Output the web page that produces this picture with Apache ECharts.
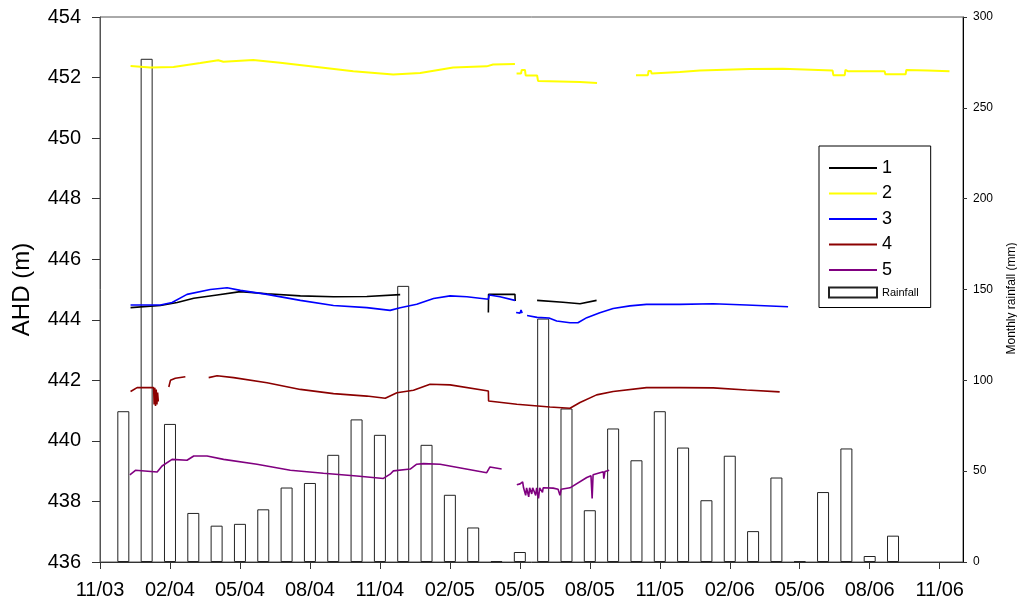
<!DOCTYPE html>
<html>
<head>
<meta charset="utf-8">
<script src="https://cdn.jsdelivr.net/npm/echarts@6/dist/echarts.min.js"></script>
<style>
html,body{margin:0;padding:0;background:#fff;}
#chart{width:1017px;height:603px;}
</style>
</head>
<body>
<div id="chart"></div>
<script>
// x values are months counted from Nov 2003 (0 = 11/03)
var xTickValues = [0, 3, 6, 9, 12, 15, 18, 21, 24, 27, 30, 33, 36];
var xTickLabels = ['11/03','02/04','05/04','08/04','11/04','02/05','05/05','08/05','11/05','02/06','05/06','08/06','11/06'];

var rainMonths = [1,2,3,4,5,6,7,8,9,10,11,12,13,14,15,16,17,18,19,20,21,22,23,24,25,26,27,28,29,30,31,32,33,34];
var rainValues = [83,277,76,27,20,21,29,41,43.5,59,78.5,70,152,64.5,37,19,0.5,5.5,134,84.5,28.5,73.5,56,83,63,34,58.5,17,46.5,0.4,38.5,62.5,3.3,14.5];

var line1 = [[1.31,444.40],[2.59,444.47],[3.31,444.57],[4.02,444.71],[5.02,444.82],[6.02,444.93],[7.16,444.86],[8.59,444.79],[10.01,444.76],[11.44,444.77],[12.87,444.83],[13.2,null],
  [16.65,444.24],[16.66,444.84],[17.79,444.84],[17.80,444.62],[18.2,null],
  [18.74,444.64],[19.85,444.58],[20.58,444.53],[21.29,444.64]];

var line2 = [[1.31,452.38],[2.16,452.33],[3.15,452.35],[4.30,452.48],[5.07,452.57],[5.29,452.52],[6.57,452.58],[7.73,452.49],[9.30,452.35],[10.86,452.21],[12.57,452.10],[13.73,452.15],[15.14,452.33],[16.58,452.37],[16.85,452.43],[17.79,452.45],[17.82,null],
  [17.86,452.13],[18.05,452.13],[18.08,452.25],[18.22,452.25],[18.25,452.07],[18.74,452.07],[18.78,451.89],[19.72,451.87],[20.58,451.85],[21.31,451.82],[22.0,null],
  [22.98,452.08],[23.49,452.08],[23.52,452.22],[23.62,452.22],[23.65,452.13],[24.86,452.18],[25.72,452.23],[27.86,452.28],[29.27,452.29],[31.41,452.23],[31.44,452.08],[31.93,452.08],[31.96,452.25],[32.06,452.21],[33.64,452.21],[33.67,452.11],[34.54,452.11],[34.57,452.25],[35.48,452.23],[36.42,452.21]];

var line3 = [[1.31,444.49],[2.59,444.49],[3.09,444.57],[3.73,444.84],[4.73,445.00],[5.45,445.06],[6.02,444.97],[7.16,444.84],[8.59,444.64],[10.01,444.47],[11.44,444.40],[12.44,444.31],[12.87,444.40],[13.58,444.51],[14.30,444.70],[15.01,444.79],[15.73,444.76],[16.65,444.68],[16.69,444.82],[17.15,444.76],[17.79,444.64],[17.82,null],
  [17.84,444.24],[18.01,444.22],[18.05,444.32],[18.10,444.22],[18.2,null],
  [18.31,444.14],[18.74,444.08],[19.25,444.06],[19.58,443.96],[20.15,443.90],[20.49,443.90],[20.87,444.07],[21.43,444.23],[22.0,444.37],[22.72,444.46],[23.43,444.51],[24.86,444.51],[26.29,444.53],[27.72,444.49],[29.50,444.43]];

var line4 = [[1.31,441.63],[1.59,441.76],[2.30,441.76],[2.32,441.2],[2.35,441.75],[2.38,441.15],[2.41,441.7],[2.44,441.2],[2.47,441.6],[2.50,441.3],[2.7,null],
  [2.95,441.78],[3.02,442.0],[3.23,442.07],[3.66,442.12],[4.2,null],
  [4.66,442.09],[5.02,442.15],[5.73,442.09],[7.16,441.92],[8.59,441.70],[10.01,441.56],[11.44,441.48],[12.23,441.41],[12.73,441.59],[13.44,441.67],[14.15,441.87],[15.01,441.85],[16.65,441.65],[16.66,441.32],[17.87,441.21],[19.29,441.12],[20.15,441.08],[20.58,441.27],[21.29,441.52],[22.0,441.63],[23.43,441.76],[24.86,441.76],[26.29,441.75],[27.72,441.68],[29.14,441.62]];

var line5 = [[1.28,438.88],[1.52,439.03],[2.45,438.97],[2.66,439.17],[3.09,439.39],[3.73,439.36],[4.02,439.50],[4.59,439.50],[5.30,439.39],[6.73,439.23],[8.16,439.03],[9.58,438.93],[11.01,438.84],[12.15,438.76],[12.44,438.90],[12.58,439.01],[13.30,439.07],[13.58,439.23],[13.87,439.25],[14.58,439.23],[16.58,438.95],[16.72,439.14],[17.22,439.07],[17.5,null],
  [17.87,438.55],[18.01,438.58],[18.12,438.65],[18.16,438.45],[18.25,438.2],[18.29,438.45],[18.38,438.15],[18.42,438.45],[18.51,438.25],[18.55,438.45],[18.68,438.2],[18.72,438.45],[18.80,438.1],[18.85,438.45],[18.97,438.3],[19.0,438.45],[19.43,438.44],[19.64,438.40],[19.72,438.2],[19.77,438.40],[20.15,438.45],[20.87,438.79],[21.05,438.85],[21.10,438.1],[21.14,438.88],[21.58,438.98],[21.60,438.75],[21.65,438.99],[21.83,439.03]];

var seriesNames = ['1','2','3','4','5'];
var seriesColors = ['#000000','#ffff00','#0000ff','#8b0000','#800080'];
var lineData = [line1, line2, line3, line4, line5];

var FONT = "'Liberation Sans', Arial, sans-serif";
var chart = echarts.init(document.getElementById('chart'), null, {renderer:'canvas'});

var series = [{
  name: 'Rainfall',
  type: 'bar',
  yAxisIndex: 1,
  barWidth: 12,
  z: 1,
  itemStyle: {color:'#ffffff', borderColor:'#222', borderWidth:1},
  data: rainMonths.map(function(m,i){ return [m, rainValues[i]]; })
}];
lineData.forEach(function(d,i){
  series.push({
    name: seriesNames[i],
    type: 'line',
    yAxisIndex: 0,
    symbol: 'none',
    showSymbol: false,
    connectNulls: false,
    z: 3,
    lineStyle: {color: seriesColors[i], width: i===1 ? 2 : 1.6},
    itemStyle: {color: seriesColors[i]},
    data: d
  });
});

var legendData = seriesNames.map(function(n){ return {name:n, itemStyle:{opacity:0}}; });
legendData.push({name:'Rainfall', icon:'rect'});

chart.setOption({
  animation: false,
  backgroundColor: '#fff',
  textStyle: {fontFamily: FONT},
  grid: {left:100, right:54, top:17, bottom:41, containLabel:false, outerBoundsMode:'none',
         show:true, borderColor:'#555', borderWidth:1, backgroundColor:'transparent'},
  legend: {
    orient: 'vertical',
    left: 819, top: 146,
    padding: [13, 12, 9, 9],
    itemGap: 7.5,
    itemWidth: 48, itemHeight: 10,
    itemTextGap: 17,
    borderColor: '#000', borderWidth: 1,
    backgroundColor: '#fff',
    data: legendData,
    formatter: function(n){ return n === 'Rainfall' ? '{s|' + n + '}' : '{b|' + n + '}'; },
    textStyle: {fontFamily: FONT, color:'#000',
      rich: {b:{fontSize:18, lineHeight:18, fontFamily: FONT, color:'#000'}, s:{fontSize:11, lineHeight:12, fontFamily: FONT, color:'#000'}}}
  },
  xAxis: {
    type: 'value', min: 0, max: 37,
    interval: 3,
    splitLine: {show:false},
    axisLine: {onZero:false, lineStyle:{color:'#333', width:1}},
    axisTick: {length:7, lineStyle:{color:'#333'}, customValues: xTickValues},
    axisLabel: {fontSize:20, color:'#000', margin:18, fontFamily: FONT, customValues: xTickValues,
      formatter: function(v){ var k = xTickValues.indexOf(Math.round(v)); return k >= 0 ? xTickLabels[k] : ''; }}
  },
  yAxis: [{
    type: 'value', min: 436, max: 454, interval: 2,
    position: 'left',
    name: 'AHD (m)', nameLocation: 'middle', nameGap: 66,
    nameTextStyle: {fontSize:24, color:'#000', fontFamily: FONT},
    splitLine: {show:false},
    axisLine: {show:true, lineStyle:{color:'#555', width:1}},
    axisTick: {show:true, length:8, lineStyle:{color:'#333'}},
    axisLabel: {fontSize:20, color:'#000', margin:19, fontFamily: FONT}
  },{
    type: 'value', min: 0, max: 300, interval: 50,
    position: 'right',
    name: 'Monthly rainfall (mm)', nameLocation: 'middle', nameGap: 43,
    nameTextStyle: {fontSize:12, color:'#000', fontFamily: FONT, padding:[0,18,0,0]},
    splitLine: {show:false},
    axisLine: {show:true, lineStyle:{color:'#000', width:1}},
    axisTick: {show:true, length:4, lineStyle:{color:'#333'}},
    axisLabel: {fontSize:12, color:'#000', margin:10, fontFamily: FONT}
  }],
  series: series
});
</script>
</body>
</html>
